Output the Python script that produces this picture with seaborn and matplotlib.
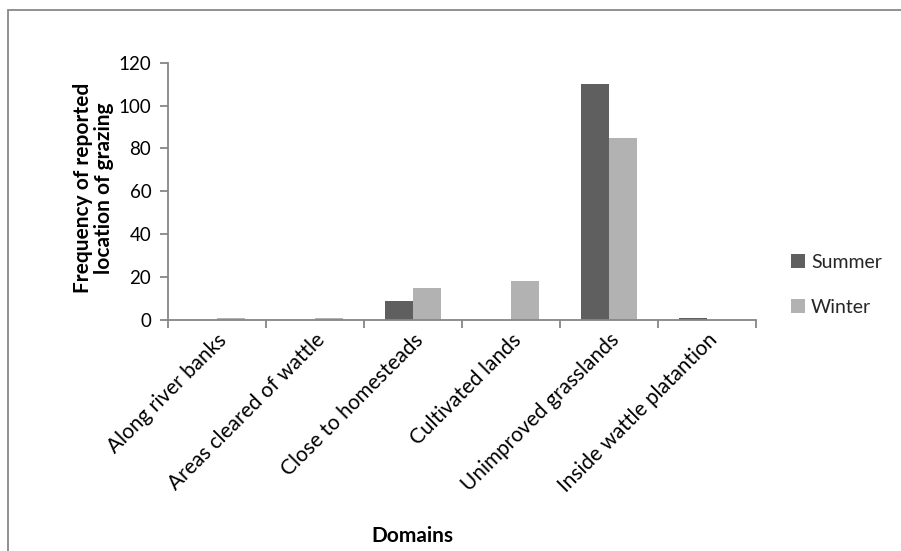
import matplotlib
matplotlib.use("Agg")
import matplotlib.pyplot as plt
import seaborn as sns
import pandas as pd
from matplotlib.patches import Rectangle
from matplotlib.transforms import ScaledTranslation

categories = ["Along river banks", "Areas cleared of wattle", "Close to homesteads",
              "Cultivated lands", "Unimproved grasslands", "Inside wattle platantion"]
summer = [0, 0, 9, 0, 110, 1]
winter = [1, 1, 15, 18, 85, 0]
yticks = [0, 20, 40, 60, 80, 100, 120]

df = pd.DataFrame({
    "Domain": categories * 2,
    "Season": ["Summer"] * len(categories) + ["Winter"] * len(categories),
    "Value": summer + winter,
})

sns.set_theme(style="white")
plt.rcParams['font.family'] = ['Lato', 'DejaVu Sans']

FS = 15
W, H = 901, 551
fig = plt.figure(figsize=(W / 100, H / 100), dpi=100)
ax = fig.add_axes([168 / W, (H - 320) / H, (756 - 168) / W, (320 - 62.6) / H])

palette = {"Summer": "#5f5f5f", "Winter": "#b2b2b2"}
sns.barplot(data=df, x="Domain", y="Value", hue="Season", palette=palette,
            width=0.57, ax=ax, saturation=1, edgecolor="none", linewidth=0)

axis_col = "#868686"
ax.set_xlim(-0.5, len(categories) - 0.5)
ax.set_ylim(0, 120)
ax.set_yticks(yticks)
ax.set_yticklabels([str(v) for v in yticks], fontsize=13.5, color="black")
ax.set_xticks(range(len(categories)))
ax.set_xticklabels(categories, rotation=45, ha="right", va="top", rotation_mode="anchor",
                   fontsize=FS, color="black")
for lbl in ax.get_xticklabels():
    lbl.set_transform(lbl.get_transform() + ScaledTranslation(1 / 100, 0, fig.dpi_scale_trans))
ax.set_xticks([i - 0.5 for i in range(len(categories) + 1)], minor=True)
ax.tick_params(axis="x", which="major", length=0, pad=7)
ax.tick_params(axis="x", which="minor", length=6, width=1.3, color=axis_col, direction="out", bottom=True)
ax.tick_params(axis="y", length=6, width=1.3, color=axis_col, direction="out", left=True, pad=6)

for s in ["top", "right"]:
    ax.spines[s].set_visible(False)
for s in ["left", "bottom"]:
    ax.spines[s].set_color(axis_col)
    ax.spines[s].set_linewidth(1.3)

ax.set_xlabel("Domains", fontsize=FS, fontweight="bold", color="black")
ax.set_ylabel("Frequency of reported\nlocation of grazing", fontsize=15,
              fontweight="bold", color="black", linespacing=1.05)
ax.xaxis.set_label_coords((412 - 168) / (756 - 168), -(526 - 320) / (320 - 62.6))
ax.yaxis.set_label_coords(-(168 - 114) / (756 - 168), (320 - 188) / (320 - 62.6))

leg = ax.legend(loc="upper left", bbox_to_anchor=(781 / W, (H - 244) / H),
                bbox_transform=fig.transFigure, frameon=False, fontsize=14,
                handlelength=0.75, handleheight=0.75, handletextpad=0.3,
                labelspacing=1.45, borderpad=0)

fig.patches.append(Rectangle((8 / W, -0.1), 1.2, (H - 10) / H + 0.1,
                             transform=fig.transFigure, fill=False,
                             edgecolor="#888888", linewidth=1.3))

fig.savefig("out.png", dpi=100)
